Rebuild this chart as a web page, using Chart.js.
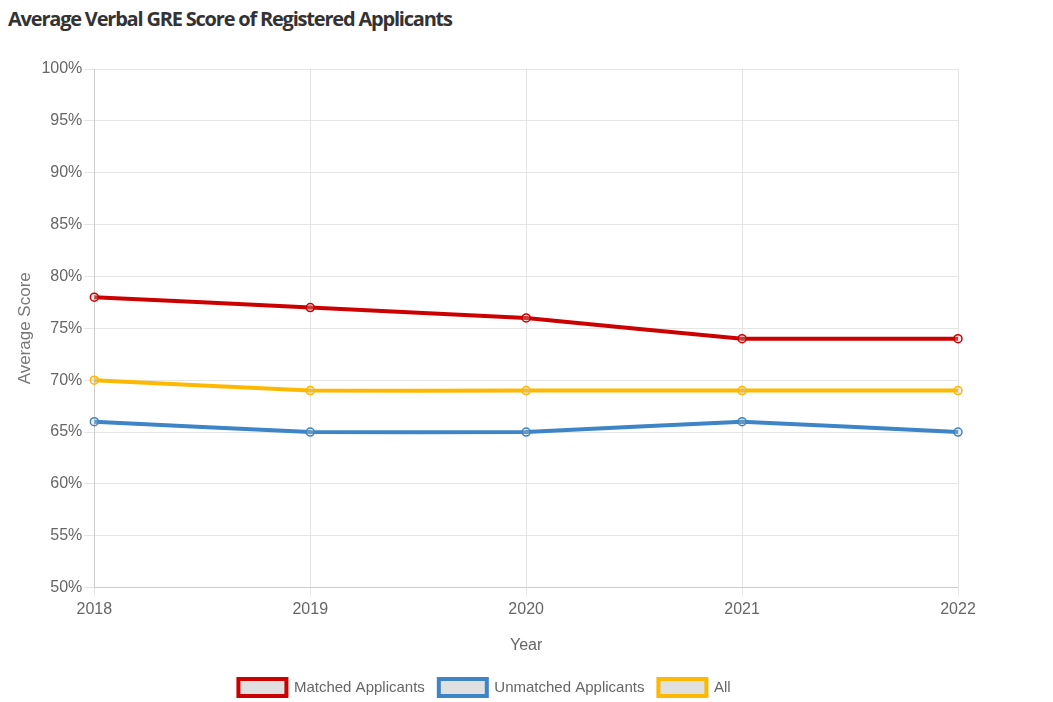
<!DOCTYPE html>
<html>
<head>
<meta charset="utf-8">
<script src="https://cdn.jsdelivr.net/npm/chart.js@4/dist/chart.umd.min.js"></script>
<style>
    body { margin: 0; background: #fff; overflow: hidden; }
    h2 {
        margin: 0;
        padding: 5px 0 0 8px;
        height: 40px;
        box-sizing: border-box;
        font: bold 20px "Open Sans", sans-serif;
        letter-spacing: -1.2px;
        color: #333;
    }
    .wrap { position: relative; width: 1053px; height: 666px; }
</style>
</head>
<body>
<h2>Average Verbal GRE Score of Registered Applicants</h2>
<div class="wrap"><canvas id="gre-chart"></canvas></div>
<script>
const years = ['2018', '2019', '2020', '2021', '2022'];
const matched = [78, 77, 76, 74, 74];
const unmatched = [66, 65, 65, 66, 65];
const allApplicants = [70, 69, 69, 69, 69];

(function () {
    const canvas = document.getElementById('gre-chart');
    Chart.defaults.font.family = '"Liberation Sans", Arial, sans-serif';
    Chart.defaults.font.size = 16;
    Chart.defaults.color = '#666';

    const line = (label, data, color) => ({
        label: label,
        data: data,
        borderColor: color,
        backgroundColor: 'rgba(224,224,224,1)',
        pointBackgroundColor: 'rgba(200,200,200,0.3)',
        pointBorderColor: color,
        pointRadius: 4,
        pointBorderWidth: 1.5,
        borderWidth: 4,
        tension: 0.05,
        fill: false,
    });

    new Chart(canvas, {
        type: 'line',
        data: {
            labels: years,
            datasets: [
                line('Matched Applicants', matched, '#cc0000'),
                line('Unmatched Applicants', unmatched, '#3d85c6'),
                line('All', allApplicants, '#ffb800'),
            ],
        },
        options: {
            responsive: true,
            maintainAspectRatio: false,
            animation: false,
            layout: { padding: { top: 29, right: 95, left: 11, bottom: 0 } },
            plugins: {
                legend: {
                    position: 'bottom',
                    labels: { boxWidth: 48, boxHeight: 17, padding: 14, color: '#666', font: { size: 15 } },
                },
                tooltip: { enabled: false },
            },
            scales: {
                x: {
                    title: { display: true, text: 'Year', color: '#666', padding: { top: 13, bottom: 10 } },
                    grid: { color: '#e5e5e5', tickLength: 8 },
                    ticks: { padding: 4 },
                },
                y: {
                    min: 50,
                    max: 100,
                    title: { display: true, text: 'Average Score', color: '#777', font: { size: 17 } },
                    grid: { color: '#e5e5e5', tickLength: 10 },
                    ticks: { stepSize: 5, padding: 2, callback: (v) => v + '%' },
                },
            },
        },
    });
})();
</script>
</body>
</html>
